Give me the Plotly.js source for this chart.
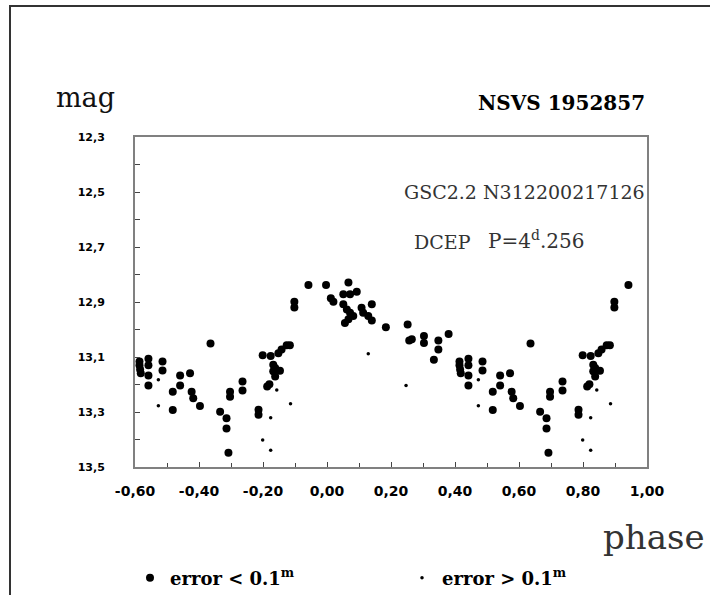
<!DOCTYPE html>
<html><head><meta charset="utf-8">
<script src="https://cdn.plot.ly/plotly-3.0.1.min.js"></script>
<style>html,body{margin:0;padding:0;background:#fff;} #chart{width:710px;height:595px;}</style>
</head><body><div id="chart"></div>
<script>
// Observations with error < 0.1 mag (phase in the base cycle, magnitude)
const goodPhase = [-0.003,0.012,0.020,0.051,0.067,0.072,0.093,0.051,0.062,0.072,0.082,0.067,0.056,0.108,0.113,0.140,0.129,0.140,0.184,0.252,0.257,0.265,0.303,0.303,0.348,0.348,0.380,0.334,0.414,0.414,0.416,0.418,0.442,0.442,0.442,0.442,0.486,0.486,0.541,0.572,0.541,0.518,0.577,0.582,0.518,0.603,0.636,0.697,0.697,0.736,0.736,0.666,0.686,0.686,0.692,0.786,0.786,0.799,0.824,0.848,0.858,0.874,0.884,0.832,0.838,0.832,0.853,0.838,0.820,0.813,0.898,0.898,0.942];
const goodMag   = [12.838,12.886,12.899,12.872,12.829,12.872,12.863,12.908,12.927,12.939,12.951,12.963,12.976,12.921,12.939,12.908,12.951,12.967,12.992,12.982,13.040,13.035,13.024,13.049,13.040,13.073,13.016,13.110,13.116,13.130,13.145,13.159,13.106,13.130,13.167,13.204,13.116,13.149,13.167,13.159,13.204,13.226,13.226,13.250,13.293,13.278,13.051,13.226,13.245,13.189,13.222,13.299,13.323,13.360,13.448,13.292,13.310,13.094,13.096,13.086,13.073,13.057,13.057,13.128,13.140,13.152,13.150,13.171,13.199,13.207,12.899,12.920,12.838];
// Observations with error > 0.1 mag
const poorPhase = [0.129,0.247,0.473,0.473,0.799,0.824,0.824,0.843,0.886];
const poorMag   = [13.088,13.204,13.183,13.277,13.402,13.439,13.321,13.220,13.270];

const xTickVals = [-0.6,-0.4,-0.2,0.0,0.2,0.4,0.6,0.8,1.0];
const xTickText = ["-0,60","-0,40","-0,20","0,00","0,20","0,40","0,60","0,80","1,00"];
const yTickVals = [12.3,12.5,12.7,12.9,13.1,13.3,13.5];
const yTickText = ["12,3","12,5","12,7","12,9","13,1","13,3","13,5"];

// phase-folded plot: phases >= 0.4 are also shown one cycle earlier
function fold(ph, mg){
  const x=[], y=[];
  ph.forEach((p,i)=>{ x.push(p); y.push(mg[i]); if(p>=0.4){ x.push(p-1); y.push(mg[i]); } });
  return {x, y};
}
const g = fold(goodPhase, goodMag);
const p = fold(poorPhase, poorMag);

const serif = "DejaVu Serif";
const L = 135, T = 137, W = 512, H = 330;
const px = v => (v - L) / W;          // pixel x -> paper
const py = v => (T + H - v) / H;      // pixel y -> paper

const traces = [
  {type:'scatter', mode:'markers', x:g.x, y:g.y, name:'error &lt; 0.1<sup>m</sup>', legend:'legend',
   marker:{color:'#000', size:8, symbol:'circle'}},
  {type:'scatter', mode:'markers', x:p.x, y:p.y, name:'error &gt; 0.1<sup>m</sup>', legend:'legend2',
   marker:{color:'#000', size:3.5, symbol:'circle'}}
];

const legendFont = {family:serif, size:18, color:'#000', weight:'bold'};
const layout = {
  width:710, height:595,
  margin:{l:L, r:710-L-W, t:T, b:595-T-H, autoexpand:false},
  paper_bgcolor:'#fff', plot_bgcolor:'#fff',
  showlegend:true,
  legend:{x:px(130), xanchor:'left', y:py(578), yanchor:'middle', font:legendFont,
          itemwidth:30, bgcolor:'rgba(0,0,0,0)', borderwidth:0},
  legend2:{x:px(402), xanchor:'left', y:py(578), yanchor:'middle', font:legendFont,
          itemwidth:30, bgcolor:'rgba(0,0,0,0)', borderwidth:0},
  xaxis:{range:[-0.6,1.0], tickmode:'array', tickvals:xTickVals, ticktext:xTickText,
         ticks:'inside', ticklen:5, tickcolor:'#444', tickwidth:1,
         minor:{tickmode:'linear', tick0:-0.6, dtick:0.1, ticks:'inside', ticklen:4, tickcolor:'#444'},
         showline:true, linecolor:'#808080', linewidth:2, mirror:true, showgrid:false, zeroline:false,
         tickfont:{family:'DejaVu Sans', size:14, color:'#000', weight:'bold'}, ticklabelstandoff:10},
  yaxis:{range:[13.5,12.3], tickmode:'array', tickvals:yTickVals, ticktext:yTickText,
         ticks:'inside', ticklen:5, tickcolor:'#444', tickwidth:1,
         minor:{tickmode:'linear', tick0:12.3, dtick:0.1, ticks:'inside', ticklen:5, tickcolor:'#444'},
         showline:true, linecolor:'#808080', linewidth:2, mirror:true, showgrid:false, zeroline:false,
         tickfont:{family:'DejaVu Sans', size:11, color:'#000', weight:'bold'}, ticklabelstandoff:26},
  annotations:[
    {xref:'paper', yref:'paper', x:px(54), y:py(97), xanchor:'left', yanchor:'middle', showarrow:false,
     text:'mag', font:{family:serif, size:27, color:'#111'}},
    {xref:'paper', yref:'paper', x:px(647), y:py(103), xanchor:'right', yanchor:'middle', showarrow:false,
     text:'<b>NSVS 1952857</b>', font:{family:serif, size:20, color:'#000'}},
    {xref:'paper', yref:'paper', x:px(647), y:py(192), xanchor:'right', yanchor:'middle', showarrow:false,
     text:'GSC2.2 N312200217126', font:{family:serif, size:19, color:'#333'}},
    {xref:'paper', yref:'paper', x:px(412), y:py(242), xanchor:'left', yanchor:'middle', showarrow:false,
     text:'DCEP', font:{family:serif, size:19, color:'#333'}},
    {xref:'paper', yref:'paper', x:px(486), y:py(240), xanchor:'left', yanchor:'middle', showarrow:false,
     text:'P=4<sup>d</sup>.256', font:{family:serif, size:20, color:'#333'}},
    {xref:'paper', yref:'paper', x:px(707), y:py(537), xanchor:'right', yanchor:'middle', showarrow:false,
     text:'phase', font:{family:serif, size:34, color:'#333'}}
  ],
  shapes:[
    {type:'line', xref:'paper', yref:'paper', x0:px(9), x1:px(712), y0:py(6), y1:py(6),
     line:{color:'#333', width:2}},
    {type:'line', xref:'paper', yref:'paper', x0:px(10), x1:px(10), y0:py(5), y1:py(600),
     line:{color:'#333', width:2}}
  ]
};
Plotly.newPlot('chart', traces, layout, {displayModeBar:false, staticPlot:true});
</script></body></html>
